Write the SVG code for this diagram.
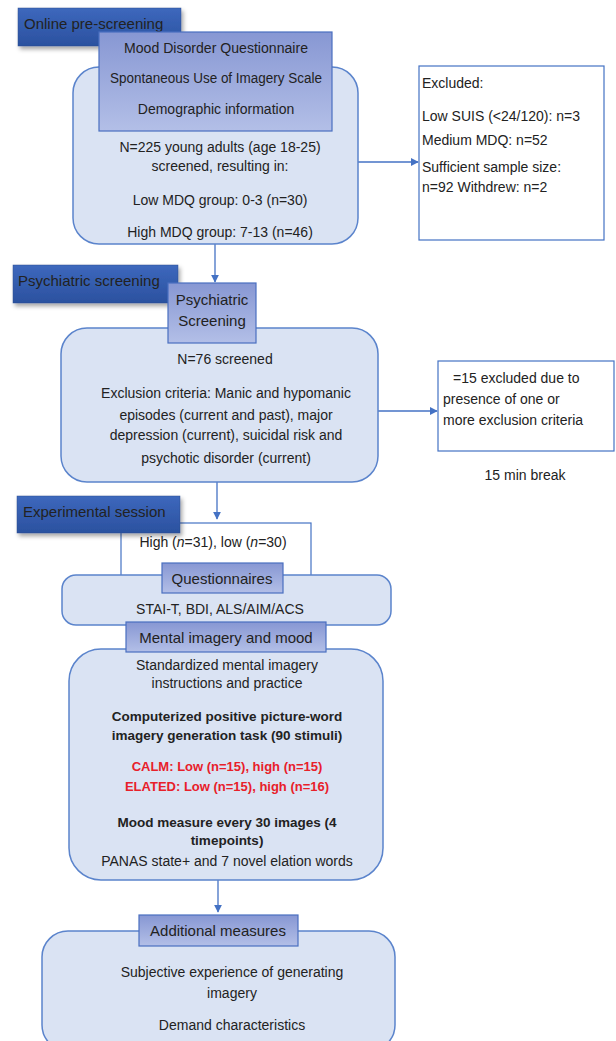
<svg xmlns="http://www.w3.org/2000/svg" width="616" height="1041" viewBox="0 0 616 1041">
<defs>
<linearGradient id="gDark" x1="0" y1="0" x2="0" y2="1"><stop offset="0" stop-color="#3d68bd"/><stop offset="1" stop-color="#2b519f"/></linearGradient>
<linearGradient id="gLight" x1="0" y1="0" x2="0" y2="1"><stop offset="0" stop-color="#8797d3"/><stop offset="1" stop-color="#b3bfe7"/></linearGradient>
<filter id="sh" x="-10%" y="-20%" width="125%" height="160%"><feDropShadow dx="2" dy="3" stdDeviation="2" flood-color="#000" flood-opacity="0.35"/></filter>
<marker id="ah" viewBox="0 0 10 10" refX="9" refY="5" markerWidth="6" markerHeight="6" orient="auto"><path d="M0,0 L10,5 L0,10 z" fill="#4472c4"/></marker>
</defs>
<style>
text{font-family:"Liberation Sans",Arial,sans-serif;font-size:14px;fill:#222}
.c{text-anchor:middle}
.b{font-weight:bold;font-size:13.5px}
.red{fill:#e8202a;font-weight:bold;font-size:13px}
.hd{font-size:15px}
.round{fill:#dae3f3;stroke:#5b84cc;stroke-width:1.5}
.dark{fill:url(#gDark);stroke:#2f4f8f;stroke-width:0.5;filter:url(#sh)}
.light{fill:url(#gLight);stroke:#4a6fc0;stroke-width:1.2}
.plain{fill:#fff;stroke:#4472c4;stroke-width:1.2}
.conn{stroke:#4472c4;stroke-width:1.3;fill:none;marker-end:url(#ah)}
</style>
<rect width="616" height="1041" fill="#fff"/>

<g id="connectors">
<line class="conn" x1="215" y1="244" x2="215" y2="282"/>
<line class="conn" x1="358" y1="162" x2="418" y2="162"/>
<line class="conn" x1="378" y1="411" x2="437" y2="411"/>
<line class="conn" x1="217" y1="482" x2="217" y2="519"/>
<line class="conn" x1="218" y1="880" x2="218" y2="912"/>
</g>

<g id="prescreening">
<rect class="round" x="73" y="67" width="285" height="177" rx="26"/>
<rect class="dark" x="18" y="8" width="163" height="38"/>
<text class="hd" x="24" y="29">Online pre-screening</text>
<rect class="light" x="99" y="32" width="233" height="99"/>
<text class="c" x="216" y="53" textLength="184" lengthAdjust="spacingAndGlyphs">Mood Disorder Questionnaire</text>
<text class="c" x="216" y="83" textLength="212" lengthAdjust="spacingAndGlyphs">Spontaneous Use of Imagery Scale</text>
<text class="c" x="216" y="114">Demographic information</text>
<text class="c" x="220" y="152">N=225 young adults (age 18-25)</text>
<text class="c" x="220" y="171">screened, resulting in:</text>
<text class="c" x="220" y="205">Low MDQ group: 0-3 (n=30)</text>
<text class="c" x="220" y="237">High MDQ group: 7-13 (n=46)</text>
</g>

<g id="excluded1">
<rect class="plain" x="419" y="66" width="185" height="174"/>
<text x="422" y="88">Excluded:</text>
<text x="422" y="121">Low SUIS (&lt;24/120): n=3</text>
<text x="422" y="145">Medium MDQ: n=52</text>
<text x="422" y="172">Sufficient sample size:</text>
<text x="422" y="192">n=92 Withdrew: n=2</text>
</g>

<g id="psychiatric">
<rect class="round" x="61" y="328" width="317" height="154" rx="26"/>
<rect class="dark" x="13" y="265" width="165" height="38"/>
<text class="hd" x="18" y="286">Psychiatric screening</text>
<rect class="light" x="168" y="283" width="88" height="60"/>
<text class="c hd" x="212" y="305">Psychiatric</text>
<text class="c hd" x="212" y="326">Screening</text>
<text class="c" x="225" y="364">N=76 screened</text>
<text class="c" x="226" y="398">Exclusion criteria: Manic and hypomanic</text>
<text class="c" x="226" y="420">episodes (current and past), major</text>
<text class="c" x="226" y="440">depression (current), suicidal risk and</text>
<text class="c" x="226" y="463">psychotic disorder (current)</text>
</g>

<g id="excluded2">
<rect class="plain" x="438" y="361" width="176" height="90"/>
<text x="453" y="383">=15 excluded due to</text>
<text x="443" y="404">presence of one or</text>
<text x="443" y="425">more exclusion criteria</text>
</g>

<text id="break" class="c" x="525" y="480">15 min break</text>

<g id="experimental">
<rect class="plain" x="121" y="523" width="190" height="60"/>
<rect class="dark" x="17" y="496" width="163" height="37"/>
<text class="hd" x="23" y="517">Experimental session</text>
<text class="c" x="213" y="547">High (<tspan font-style="italic">n</tspan>=31), low (<tspan font-style="italic">n</tspan>=30)</text>
</g>

<g id="questionnaires">
<rect class="round" x="62" y="575" width="329" height="50" rx="14"/>
<rect class="light" x="162" y="563" width="121" height="30"/>
<text class="c hd" x="222" y="584">Questionnaires</text>
<text class="c" x="220" y="614">STAI-T, BDI, ALS/AIM/ACS</text>
</g>

<g id="mental">
<rect class="round" x="69" y="649" width="314" height="231" rx="32"/>
<rect class="light" x="126" y="622" width="200" height="30"/>
<text class="c hd" x="226" y="643">Mental imagery and mood</text>
<text class="c" x="227" y="670">Standardized mental imagery</text>
<text class="c" x="227" y="688">instructions and practice</text>
<text class="c b" x="227" y="721">Computerized positive picture-word</text>
<text class="c b" x="227" y="740">imagery generation task (90 stimuli)</text>
<text class="c red" x="227" y="771">CALM: Low (n=15), high (n=15)</text>
<text class="c red" x="227" y="791">ELATED: Low (n=15), high (n=16)</text>
<text class="c b" x="227" y="827">Mood measure every 30 images (4</text>
<text class="c b" x="227" y="845">timepoints)</text>
<text class="c" x="227" y="866">PANAS state+ and 7 novel elation words</text>
</g>

<g id="additional">
<rect class="round" x="42" y="931" width="353" height="120" rx="26"/>
<rect class="light" x="139" y="915" width="159" height="31"/>
<text class="c hd" x="218" y="936">Additional measures</text>
<text class="c" x="232" y="977">Subjective experience of generating</text>
<text class="c" x="232" y="998">imagery</text>
<text class="c" x="232" y="1030">Demand characteristics</text>
</g>
</svg>
